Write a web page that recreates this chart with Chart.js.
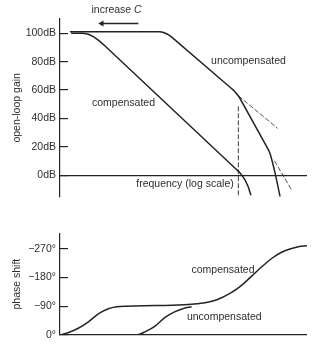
<!DOCTYPE html>
<html>
<head>
<meta charset="utf-8">
<script src="https://cdn.jsdelivr.net/npm/chart.js@4/dist/chart.umd.min.js"></script>
<style>
  html, body { margin: 0; padding: 0; background: #fff; }
  #wrap { position: relative; width: 324px; height: 354px; }
  .box { position: absolute; left: 0; width: 324px; }
</style>
</head>
<body>
<div id="wrap">
  <div class="box" style="top:0;height:215px"><canvas id="gainChart"></canvas></div>
  <div class="box" style="top:215px;height:139px"><canvas id="phaseChart"></canvas></div>
</div>
<script>
// x = position along log-frequency axis (0..100), y = dB or degrees
const compensatedGain = [[4.5, 100], [9.3, 100], [11.5, 99.3], [13.5, 97.6], [15.5, 95.1], [17.5, 92.2], [70.9, 5], [72.5, 2.5], [73.7, 0], [75, -3.5], [76.2, -8], [77.3, -14]];
const uncompensatedGain = [[4, 101], [40.5, 101], [42, 100.5], [43.5, 99.3], [45, 97.6], [69.2, 61.5], [70.3, 59.8], [71.3, 57.8], [72.5, 55.3], [84.4, 18], [85.2, 14.5], [86.2, 8], [87.3, 0], [89.1, -15]];
const slopeGuide1 = [[72.2, 56], [88.1, 33.1]];
const slopeGuide2 = [[86.8, 10.3], [93.8, -10.3]];
const unityMarker = [[72.2, 48.6], [72.2, -15]];
const arrowC = [[31.7, 106.8], [16.9, 106.8]];
const gainTicks = [0, 20, 40, 60, 80, 100];

const compensatedPhase = [[0, 0], [3.5, -8], [7.4, -21], [11.5, -41], [15.5, -66], [19.6, -82], [23, -88], [27, -90], [38.5, -92], [51.9, -95], [58.7, -101], [63.5, -110], [68.8, -130], [73, -152], [77.7, -185], [81.8, -214], [85.8, -240], [89.5, -258], [93.1, -269], [96.5, -276], [100, -279]];
const uncompensatedPhase = [[0, 0], [30.4, 0], [32.5, -3], [34.4, -10], [38.5, -28], [42.5, -55], [46.6, -73], [50, -83], [53.3, -88]];
const phaseTicks = [0, -90, -180, -270];

const gainNotes = [
    { x: 22.9, y: 116.4, parts: [['increase ', false], ['C', true]] },
    { x: 76.3, y: 80.3, parts: [['uncompensated', false]] },
    { x: 25.7, y: 50.7, parts: [['compensated', false]] },
    { x: 50.6, y: -6.4, parts: [['frequency (log scale)', false]] }
];
const phaseNotes = [
    { x: 66, y: -202, parts: [['compensated', false]] },
    { x: 66.5, y: -55, parts: [['uncompensated', false]] }
];

const INK = '#242424';
const TXT = '#2e2e2e';
const FONT = 'Liberation Sans, Arial, Helvetica, sans-serif';
const FS = 10.5;

const pts = arr => arr.map(p => ({ x: p[0], y: p[1] }));

function curve(arr, extra) {
    return Object.assign({
        data: pts(arr),
        borderColor: INK,
        borderWidth: 1.5,
        pointRadius: 0,
        fill: false,
        tension: 0
    }, extra || {});
}

const notesPlugin = {
    id: 'notes',
    afterDatasetsDraw(chart, args, opts) {
        const c = chart.ctx;
        const xs = chart.scales.x, ys = chart.scales.y;
        c.save();
        c.fillStyle = TXT;
        c.textBaseline = 'middle';
        opts.items.forEach(n => {
            const fonts = n.parts.map(p => (p[1] ? 'italic ' : '') + FS + 'px ' + FONT);
            let total = 0;
            const widths = n.parts.map((p, i) => { c.font = fonts[i]; const w = c.measureText(p[0]).width; total += w; return w; });
            let x = xs.getPixelForValue(n.x) - total / 2;
            const y = ys.getPixelForValue(n.y);
            c.textAlign = 'left';
            n.parts.forEach((p, i) => { c.font = fonts[i]; c.fillText(p[0], x, y); x += widths[i]; });
        });
        c.restore();
    }
};

function yAxis(ticks, label, fmt, extra) {
    return Object.assign({
        type: 'linear',
        afterFit(scale) { scale.width = 60; },
        afterBuildTicks(scale) { scale.ticks = ticks.map(v => ({ value: v })); },
        border: { display: true, color: INK, width: 1.2 },
        grid: {
            drawOnChartArea: true,
            color: ctx => (ctx.tick && ctx.tick.value === 0 ? INK : 'rgba(0,0,0,0)'),
            lineWidth: 1.2,
            tickColor: INK,
            tickLength: -8,
            tickWidth: 1.2
        },
        ticks: {
            padding: 12,
            color: TXT,
            font: { family: FONT, size: FS },
            callback: fmt
        },
        title: {
            display: true,
            text: label,
            color: TXT,
            font: { family: FONT, size: FS },
            padding: { top: 11, bottom: 0 }
        }
    }, extra);
}

const common = {
    responsive: true,
    maintainAspectRatio: false,
    animation: false,
    plugins: { legend: { display: false }, tooltip: { enabled: false } }
};

new Chart(document.getElementById('gainChart').getContext('2d'), {
    type: 'line',
    data: {
        datasets: [
            curve(compensatedGain),
            curve(uncompensatedGain),
            curve(slopeGuide1, { borderWidth: 0.8, borderDash: [5, 2] }),
            curve(slopeGuide2, { borderWidth: 0.8, borderDash: [5, 2] }),
            curve(unityMarker, { borderWidth: 0.9, borderDash: [5, 2] }),
            curve(arrowC, {
                borderWidth: 1.4,
                pointRadius: [0, 3.5],
                pointStyle: 'triangle',
                rotation: 270,
                pointBackgroundColor: INK,
                pointBorderColor: INK,
                pointBorderWidth: 0
            })
        ]
    },
    options: Object.assign({}, common, {
        layout: { padding: { top: 19, right: 17, bottom: 13, left: 0 } },
        plugins: Object.assign({}, common.plugins, { notes: { items: gainNotes } }),
        scales: {
            x: { type: 'linear', min: 0, max: 100, display: false },
            y: yAxis(gainTicks, 'open-loop gain', v => v + 'dB', { min: -15, max: 110 })
        }
    }),
    plugins: [notesPlugin]
});

new Chart(document.getElementById('phaseChart').getContext('2d'), {
    type: 'line',
    data: {
        datasets: [
            curve(compensatedPhase, { cubicInterpolationMode: 'monotone' }),
            curve(uncompensatedPhase, { cubicInterpolationMode: 'monotone' })
        ]
    },
    options: Object.assign({}, common, {
        layout: { padding: { top: 18, right: 17, bottom: 19, left: 0 } },
        plugins: Object.assign({}, common.plugins, { notes: { items: phaseNotes } }),
        scales: {
            x: { type: 'linear', min: 0, max: 100, display: false },
            y: yAxis(phaseTicks, 'phase shift', v => (v === 0 ? '0' : '\u2212' + Math.abs(v)) + '\u00b0', { min: -318, max: 0, reverse: true })
        }
    }),
    plugins: [notesPlugin]
});
</script>
</body>
</html>
